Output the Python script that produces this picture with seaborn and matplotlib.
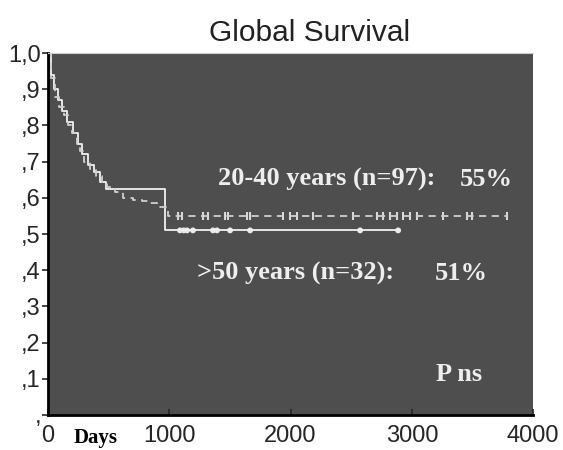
import matplotlib
matplotlib.use('Agg')
import matplotlib.pyplot as plt
import seaborn as sns
import pandas as pd

# ---- data ----
# 20-40 years group (n=97): step times (days) and survival
young_t = [0, 30, 60, 90, 130, 170, 200, 240, 265, 300, 345, 400, 450, 485,
           550, 620, 700, 780, 840, 900, 990, 3790]
young_s = [1.0, 0.93, 0.88, 0.85, 0.83, 0.80, 0.78, 0.75, 0.73, 0.70, 0.68, 0.66,
           0.645, 0.63, 0.615, 0.60, 0.595, 0.59, 0.585, 0.575, 0.55, 0.55]
young_cens = [1073, 1106, 1279, 1320, 1460, 1485, 1642, 1667, 1939, 1997, 2054, 2186,
              2516, 2714, 2764, 2822, 2879, 2929, 2987, 3045, 3259, 3457, 3498, 3787]

# >50 years group (n=32)
old_t = [0, 25, 50, 80, 120, 160, 210, 250, 280, 330, 380, 430, 480, 965, 2900]
old_s = [1.0, 0.94, 0.90, 0.87, 0.84, 0.81, 0.78, 0.75, 0.72, 0.69, 0.67, 0.645,
         0.625, 0.51, 0.51]
old_cens = [1089, 1120, 1147, 1196, 1361, 1394, 1502, 1667, 2574, 2887]

ytick_vals = [0, 0.1, 0.2, 0.3, 0.4, 0.5, 0.6, 0.7, 0.8, 0.9, 1.0]
ytick_labels = [',', ',1', ',2', ',3', ',4', ',5', ',6', ',7', ',8', ',9', '1,0']
xtick_vals = [0, 1000, 2000, 3000, 4000]

young = pd.DataFrame({'t': young_t, 's': young_s})
old = pd.DataFrame({'t': old_t, 's': old_s})
young_c = pd.DataFrame({'t': young_cens, 's': [0.55] * len(young_cens)})
old_c = pd.DataFrame({'t': old_cens, 's': [0.51] * len(old_cens)})

sns.set_style('ticks')
plt.rcParams['font.family'] = ['Liberation Sans', 'DejaVu Sans']

fig = plt.figure(figsize=(5.63, 4.5), dpi=100)
ax = fig.add_axes([0.085, 0.078, 0.862, 0.804])
ax.set_facecolor('#4e4e4e')

sns.lineplot(data=old, x='t', y='s', ax=ax, drawstyle='steps-post',
             color='#f0f0f0', linewidth=1.3, estimator=None)
sns.lineplot(data=young, x='t', y='s', ax=ax, drawstyle='steps-post',
             color='#d0d0d0', linewidth=1.3, linestyle=(0, (4, 3)), estimator=None)
sns.scatterplot(data=old_c, x='t', y='s', ax=ax, marker='o', s=18,
                color='#e8e8e8', edgecolor='none')
sns.scatterplot(data=young_c, x='t', y='s', ax=ax, marker='|', s=30,
                color='#d8d8d8', linewidth=1.5)

ax.set_xlim(0, 4000)
ax.set_ylim(0, 1.0)
ax.set_xticks(xtick_vals)
ax.set_xticklabels([str(v) for v in xtick_vals], fontsize=17)
ax.set_yticks(ytick_vals)
ax.set_yticklabels(ytick_labels, fontsize=17)
ax.tick_params(axis='y', length=4, width=1.2, pad=1)
ax.tick_params(axis='x', length=4, width=1.2, pad=7, direction='in')
ax.set_xlabel('')
ax.set_ylabel('')
for side in ['left', 'bottom']:
    ax.spines[side].set_linewidth(2)
    ax.spines[side].set_color('black')
ax.spines['top'].set_color('#cccccc')
ax.spines['right'].set_visible(False)

serif = ['Liberation Serif', 'DejaVu Serif']
lab = dict(transform=ax.transAxes, color='#eeeeee', fontsize=19,
           fontweight='bold', family=serif, va='center')
ax.text(0.351, 0.652, '20-40 years (n=97):', **lab)
ax.text(0.849, 0.652, '55%', **lab)
ax.text(0.307, 0.39, '>50 years (n=32):', **lab)
ax.text(0.798, 0.39, '51%', **lab)
ax.text(0.80, 0.112, 'P ns', **lab)
ax.text(0.098, -0.065, 'Days', transform=ax.transAxes,
        color='black', fontsize=15, fontweight='bold', family=serif, va='center', ha='center')

fig.suptitle('Global Survival', fontsize=21.5, x=0.55, y=0.958, color='#222222')

fig.savefig('out.png', dpi=100)
